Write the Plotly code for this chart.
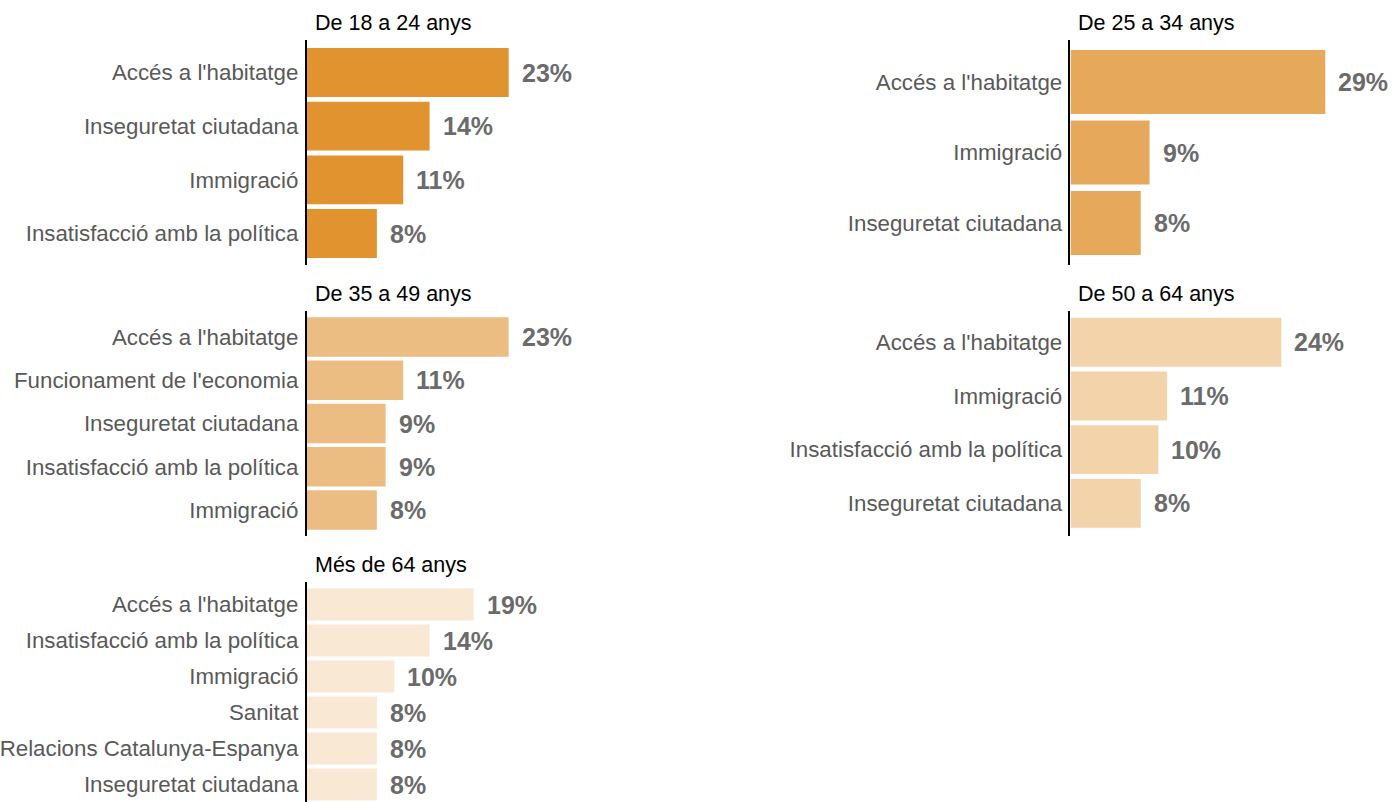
import plotly.graph_objects as go

# --- data -------------------------------------------------------------
groups = ["De 18 a 24 anys", "De 25 a 34 anys", "De 35 a 49 anys",
          "De 50 a 64 anys", "Més de 64 anys"]

cats_18_24 = ["Accés a l'habitatge", "Inseguretat ciutadana", "Immigració",
              "Insatisfacció amb la política"]
vals_18_24 = [23, 14, 11, 8]

cats_25_34 = ["Accés a l'habitatge", "Immigració", "Inseguretat ciutadana"]
vals_25_34 = [29, 9, 8]

cats_35_49 = ["Accés a l'habitatge", "Funcionament de l'economia",
              "Inseguretat ciutadana", "Insatisfacció amb la política", "Immigració"]
vals_35_49 = [23, 11, 9, 9, 8]

cats_50_64 = ["Accés a l'habitatge", "Immigració", "Insatisfacció amb la política",
              "Inseguretat ciutadana"]
vals_50_64 = [24, 11, 10, 8]

cats_64 = ["Accés a l'habitatge", "Insatisfacció amb la política", "Immigració",
           "Sanitat", "Relacions Catalunya-Espanya", "Inseguretat ciutadana"]
vals_64 = [19, 14, 10, 8, 8, 8]

colors = ["#E0932F", "#E6A95C", "#ECBD83", "#F3D3AA", "#F8E8D4"]

# --- layout helpers (pixel -> paper) -----------------------------------
W, H = 1394, 802
FONT = "Liberation Sans, Arial, sans-serif"


def px_x(x):
    return x / W


def px_y(y):
    return 1 - y / H


# (x_left, y_top, y_bottom, pad_top, pad_bottom, bar width) per panel
panels = [
    (305, 40, 265, 0.106, 0.087, 0.91),
    (1070, 40, 265, 0.096, 0.096, 0.91),
    (305, 311, 536, 0.101, 0.101, 0.91),
    (1070, 311, 536, 0.083, 0.109, 0.91),
    (305, 582, 802, 0.125, -0.015, 0.89),
]
XMAX = 35
XWIDTH = 308

data = [(cats_18_24, vals_18_24), (cats_25_34, vals_25_34), (cats_35_49, vals_35_49),
        (cats_50_64, vals_50_64), (cats_64, vals_64)]

fig = go.Figure()
annotations = []

for i, ((cats, vals), (xl, yt, yb, pt, pb, bw)) in enumerate(zip(data, panels)):
    n = len(cats)
    sfx = "" if i == 0 else str(i + 1)
    fig.add_trace(go.Bar(
        x=vals, y=cats, orientation="h", width=bw,
        marker=dict(color=colors[i], line_width=0),
        xaxis="x" + sfx, yaxis="y" + sfx, showlegend=False, hoverinfo="x+y",
    ))
    fig.update_layout(**{
        "xaxis" + sfx: dict(domain=[px_x(xl), px_x(xl + XWIDTH)], range=[0, XMAX],
                            visible=False, anchor="y" + sfx, fixedrange=True),
        "yaxis" + sfx: dict(domain=[px_y(yb), px_y(yt)], anchor="x" + sfx,
                            range=[n - 0.5 + pb, -0.5 - pt], type="category",
                            showline=True, linecolor="black", linewidth=1.5,
                            showgrid=False, zeroline=False, ticks="",
                            ticklabelstandoff=2,
                            tickfont=dict(family=FONT, size=22.3, color="#595959"),
                            fixedrange=True),
    })
    # value labels
    for c, v in zip(cats, vals):
        annotations.append(dict(
            x=v, y=c, xref="x" + sfx, yref="y" + sfx, text=f"{v}%",
            showarrow=False, xanchor="left", yanchor="middle", xshift=11,
            font=dict(family=FONT, size=25, color="#6b6b6b", weight="bold"),
        ))
    # panel title
    annotations.append(dict(
        x=px_x(xl + 6), y=px_y(yt - 17), xref="paper", yref="paper",
        text=groups[i], showarrow=False, xanchor="left", yanchor="middle",
        font=dict(family=FONT, size=21.5, color="black"),
    ))

fig.update_layout(
    width=W, height=H,
    margin=dict(l=0, r=0, t=0, b=0),
    paper_bgcolor="white", plot_bgcolor="rgba(0,0,0,0)",
    annotations=annotations,
)

# drop the browser's default body margin so the figure fills the window
fig.write_html("out.html", config={"displayModeBar": False},
               post_script="document.body.style.margin = '0';")
